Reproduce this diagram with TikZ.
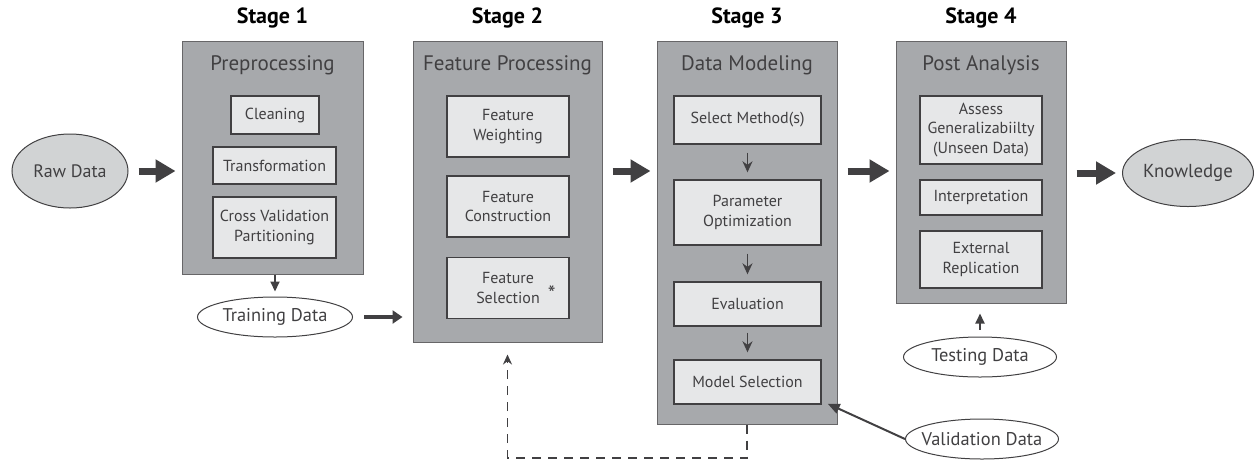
\documentclass[tikz,border=0pt]{standalone}
\usepackage{fontspec}
\setmainfont{PT Sans}
\usetikzlibrary{arrows.meta,positioning,shapes.geometric}
\definecolor{stagegray}{HTML}{A7A9AC}
\definecolor{stepgray}{HTML}{E6E7E8}
\definecolor{datagray}{HTML}{D1D3D4}
\definecolor{inkgray}{HTML}{414042}

\begin{document}
\begin{tikzpicture}[x=0.5pt,y=-0.5pt]
\tikzset{
    stage/.style={
           rectangle,
           draw=inkgray!80,
           fill=stagegray,
           line width=0.5pt,
           inner sep=0pt},
    stagelabel/.style={
           font=\fontsize{11}{13}\selectfont\bfseries,
           text=black},
    heading/.style={
           font=\fontsize{10.5}{12}\selectfont,
           text=inkgray},
    stepbox/.style={
           rectangle,
           draw=inkgray,
           fill=stepgray,
           line width=0.7pt,
           inner sep=0pt,
           align=center,
           text=inkgray,
           font=\fontsize{8}{9.6}\selectfont},
    data/.style={
           ellipse,
           draw=inkgray,
           fill=white,
           line width=0.5pt,
           inner ysep=0pt,
           inner xsep=-6pt,
           text=inkgray,
           font=\fontsize{9.2}{11}\selectfont},
    % thick arrows between the stages
    bigarrow/.style={
           -{Triangle[length=10pt,width=11pt]},
           draw=inkgray,
           line width=3.5pt,
           shorten <=5pt,
           shorten >=3pt},
    midarrow/.style={
           -{Triangle[length=5pt,width=6.5pt]},
           draw=inkgray,
           line width=2.2pt},
    thinarrow/.style={
           -{Stealth[length=5.5pt,width=5pt]},
           draw=inkgray,
           line width=0.8pt},
    feedarrow/.style={
           -{Stealth[length=5pt,width=4.5pt]},
           draw=inkgray,
           line width=0.7pt,
           dash pattern=on 4.5pt off 3.5pt}
}
\useasboundingbox (0,0) rectangle (1254,462);

% stages
\node[stage,minimum width=90.5pt,minimum height=116.5pt] (pre) at (272.5,157.5) {};
\node[stage,minimum width=94.5pt,minimum height=150.5pt] (feat) at (507.5,191.5) {};
\node[stage,minimum width=90pt,minimum height=191.5pt] (model) at (747,232.5) {};
\node[stage,minimum width=85pt,minimum height=131pt] (post) at (981,172) {};

\node[stagelabel,above=2.5pt of pre] (s1) {Stage 1};
\node[stagelabel,above=2.5pt of feat] (s2) {Stage 2};
\node[stagelabel,above=2.5pt of model] (s3) {Stage 3};
\node[stagelabel,above=2.5pt of post] (s4) {Stage 4};

\node[heading] (hpre) at (272.5,65) {Preprocessing};
\node[heading] (hfeat) at (507.5,65) {Feature Processing};
\node[heading] (hmodel) at (747,65) {Data Modeling};
\node[heading] (hpost) at (981,65) {Post Analysis};

% stage 1 steps
\node[stepbox,minimum width=44pt,minimum height=19pt] (clean) at (275,115) {Cleaning};
\node[stepbox,minimum width=61.5pt,minimum height=18.5pt] (trans) at (274.5,165.5) {Transformation};
\node[stepbox,minimum width=61.5pt,minimum height=30.5pt] (cross) at (274.5,227.5) {Cross Validation\\Partitioning};

% stage 2 steps
\node[stepbox,minimum width=61pt,minimum height=30.5pt] (weight) at (508,126.5) {Feature\\Weighting};
\node[stepbox,minimum width=61pt,minimum height=30.5pt] (constr) at (508,206.5) {Feature\\Construction};
\node[stepbox,minimum width=61pt,minimum height=30.5pt] (select) at (508,288) {Feature\\Selection\rlap{\hspace{4pt}\raisebox{1pt}{\fontsize{11}{11}\selectfont*}}};

% stage 3 steps
\node[stepbox,minimum width=73.5pt,minimum height=24pt] (method) at (747.5,120) {Select Method(s)};
\node[stepbox,minimum width=73.5pt,minimum height=32.5pt] (param) at (747.5,212.5) {Parameter\\Optimization};
\node[stepbox,minimum width=73.5pt,minimum height=22pt] (eval) at (747.5,304) {Evaluation};
\node[stepbox,minimum width=73.5pt,minimum height=22pt] (modsel) at (747.5,382) {Model Selection};

% stage 4 steps
\node[stepbox,minimum width=61pt,minimum height=34pt] (assess) at (981,130) {Assess\\Generalizabiilty\\(Unseen Data)};
\node[stepbox,minimum width=61pt,minimum height=17.5pt] (interp) at (981,197.5) {Interpretation};
\node[stepbox,minimum width=61pt,minimum height=28.5pt] (extern) at (981,259.5) {External\\Replication};

% data
\node[data,fill=datagray,minimum width=58pt,minimum height=37pt,font=\fontsize{9}{11}\selectfont] (raw) at (70,171) {Raw Data};
\node[data,fill=datagray,minimum width=65.5pt,minimum height=33.5pt,font=\fontsize{9.4}{11}\selectfont] (know) at (1188,173) {Knowledge};
\node[data,minimum width=77.5pt,minimum height=20pt] (train) at (275,317) {Training Data};
\node[data,minimum width=76.5pt,minimum height=20pt] (test) at (980,357) {Testing Data};
\node[data,minimum width=76.5pt,minimum height=20pt] (valid) at (982,439) {Validation Data};

% arrows
\draw[bigarrow] (raw.east) -- (raw.east -| pre.west);
\draw[bigarrow] (feat.east |- raw.east) -- (model.west |- raw.east);
\draw[bigarrow] (model.east |- raw.east) -- (post.west |- raw.east);
\draw[bigarrow] (post.east |- know.west) -- (know.west);
\draw[midarrow,shorten <=5.5pt,shorten >=5pt] (train.east) -- (train.east -| feat.west);
\draw[thinarrow,line width=1pt,-{Triangle[length=5pt,width=4.5pt]},shorten >=2.5pt] (pre.south -| train.north) -- (train.north);
\draw[thinarrow,line width=1pt,-{Triangle[length=5pt,width=4.5pt]},shorten <=3.5pt,shorten >=5pt] (test.north) -- (test.north |- post.south);
\draw[thinarrow,shorten <=4pt,shorten >=3.5pt] (method) -- (param);
\draw[thinarrow,shorten <=4pt,shorten >=3.5pt] (param) -- (eval);
\draw[thinarrow,shorten <=3pt,shorten >=3.5pt] (eval) -- (modsel);
\draw[thinarrow,line width=1pt,-{Triangle[length=6pt,width=5pt]}] (valid.west) -- ([xshift=3pt,yshift=0.5pt]modsel.south east);
\coordinate (loopright) at (747,458);
\coordinate (loopleft) at (507.5,458);
\draw[feedarrow,shorten >=6pt] (model.south) -- (loopright) -- (loopleft) -- (feat.south);
\end{tikzpicture}
\end{document}
